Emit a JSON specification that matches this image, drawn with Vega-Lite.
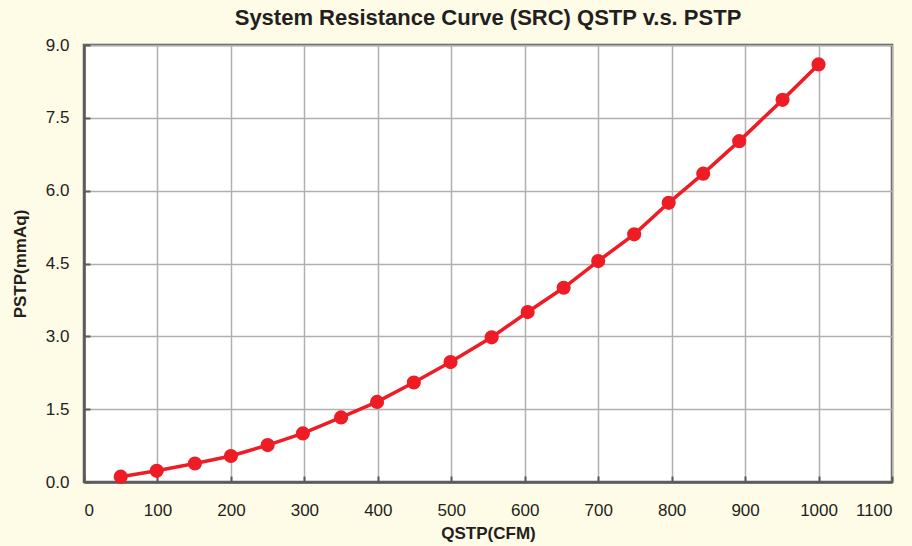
{
  "$schema": "https://vega.github.io/schema/vega-lite/v6.json",
  "width": 808,
  "height": 437,
  "autosize": "none",
  "padding": {"left": 84, "top": 45, "right": 20, "bottom": 64},
  "background": "#FEFBE6",
  "title": {
    "text": "System Resistance Curve (SRC) QSTP v.s. PSTP",
    "font": "Liberation Sans",
    "fontSize": 22,
    "fontWeight": "bold",
    "color": "#231F20",
    "offset": 6
  },
  "data": {
    "values": [
      {"q": 50, "p": 0.11},
      {"q": 99, "p": 0.23},
      {"q": 151, "p": 0.38},
      {"q": 200, "p": 0.535},
      {"q": 250, "p": 0.76},
      {"q": 298, "p": 1.0},
      {"q": 350, "p": 1.33},
      {"q": 399, "p": 1.65},
      {"q": 449, "p": 2.05},
      {"q": 499, "p": 2.47},
      {"q": 555, "p": 2.98},
      {"q": 604, "p": 3.5},
      {"q": 653, "p": 4.0},
      {"q": 700, "p": 4.55},
      {"q": 749, "p": 5.1},
      {"q": 796, "p": 5.75},
      {"q": 843, "p": 6.35},
      {"q": 892, "p": 7.02},
      {"q": 951, "p": 7.87},
      {"q": 1000, "p": 8.6}
    ]
  },
  "config": {
    "view": {"fill": "#FFFFFF", "stroke": "#5A5A5A", "strokeWidth": 2.5},
    "axis": {
      "labelFont": "Liberation Sans",
      "labelFontSize": 17,
      "labelColor": "#231F20",
      "titleFont": "Liberation Sans",
      "titleFontSize": 17,
      "titleFontWeight": "bold",
      "titleColor": "#231F20",
      "gridColor": "#B0B0B0",
      "gridWidth": 1.5,
      "gridOpacity": 1,
      "domainColor": "#5A5A5A",
      "domainWidth": 2.5,
      "tickColor": "#5A5A5A",
      "tickWidth": 2,
      "tickSize": -6
    }
  },
  "mark": {"type": "line", "color": "#EE1C25", "strokeWidth": 3.5, "point": {"filled": true, "size": 200, "color": "#EE1C25", "opacity": 1}},
  "encoding": {
    "x": {
      "field": "q",
      "type": "quantitative",
      "scale": {"domain": [0, 1100], "nice": false},
      "axis": {"values": [0,100,200,300,400,500,600,700,800,900,1000,1100], "format": "d", "title": "QSTP(CFM)", "labelPadding": 26, "titlePadding": 7}
    },
    "y": {
      "field": "p",
      "type": "quantitative",
      "scale": {"domain": [0, 9], "nice": false},
      "axis": {"values": [0, 1.5, 3, 4.5, 6, 7.5, 9], "format": ".1f", "title": "PSTP(mmAq)", "labelPadding": 21, "titlePadding": 16}
    }
  }
}
